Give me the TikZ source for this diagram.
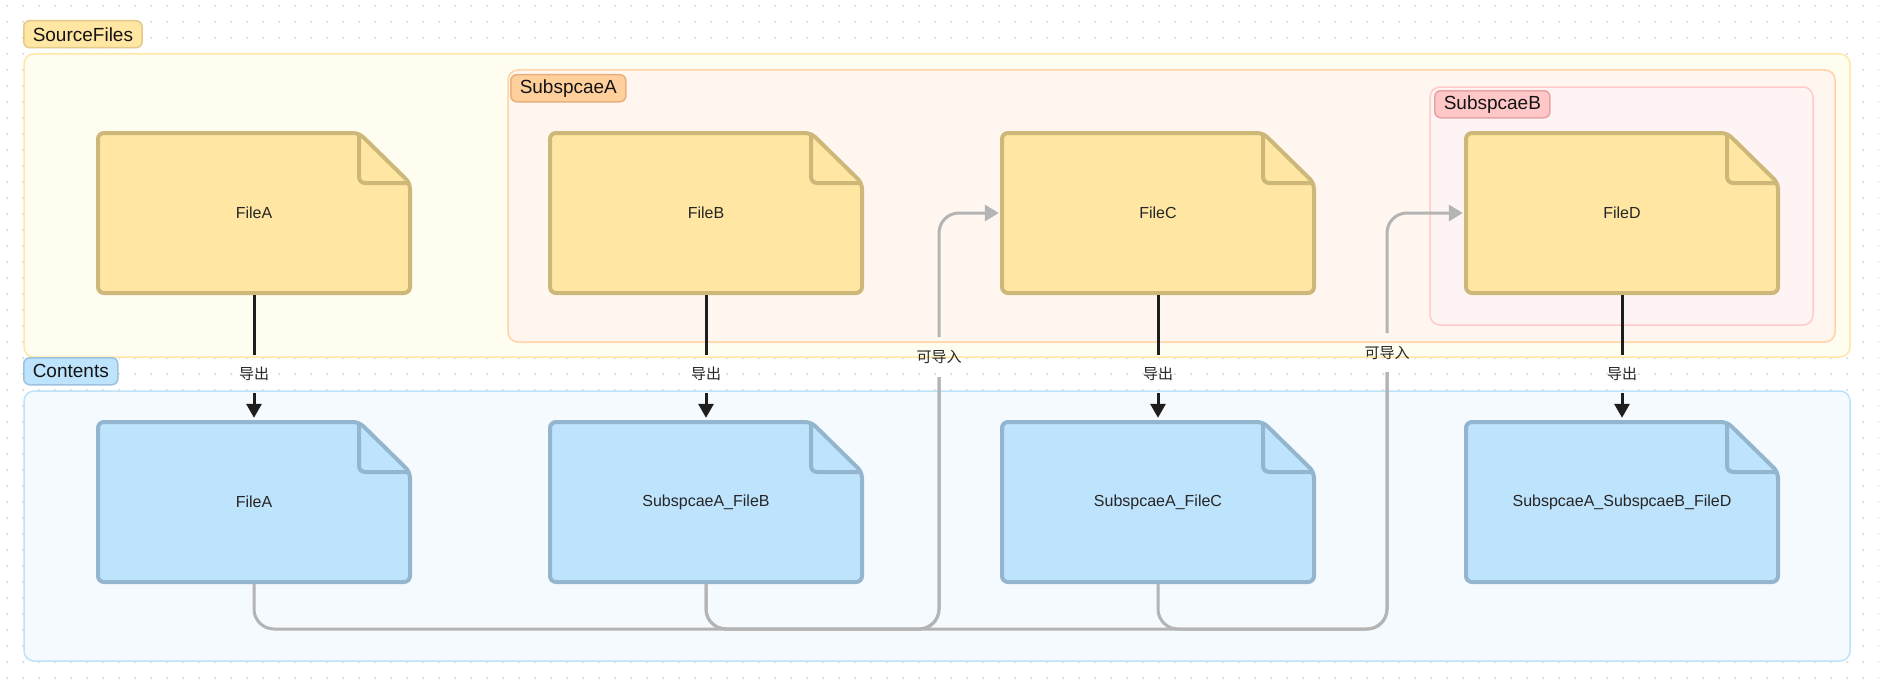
\documentclass[tikz,border=0pt]{standalone}
\usepackage{fontspec}
\setmainfont{Liberation Sans}
\newfontfamily\cjk{Noto Sans CJK SC}
\usetikzlibrary{arrows.meta}
\definecolor{dotc}{HTML}{E2E2E2}
\definecolor{txt}{HTML}{262626}
\definecolor{tagtext}{HTML}{141414}
\definecolor{srcfill}{HTML}{FFFCF0}
\definecolor{srcdraw}{HTML}{FFE8A6}
\definecolor{srctagf}{HTML}{FFE6A2}
\definecolor{srctagd}{HTML}{E4C987}
\definecolor{safill}{HTML}{FFF6F0}
\definecolor{sadraw}{HTML}{FFD3A3}
\definecolor{satagf}{HTML}{FFD09C}
\definecolor{satagd}{HTML}{E6B07C}
\definecolor{sbfill}{HTML}{FFF4F4}
\definecolor{sbdraw}{HTML}{FFCACA}
\definecolor{sbtagf}{HTML}{FFC7C7}
\definecolor{sbtagd}{HTML}{E8A3A3}
\definecolor{ctfill}{HTML}{F5FAFF}
\definecolor{ctdraw}{HTML}{BEE2F8}
\definecolor{cttagf}{HTML}{BEE3FC}
\definecolor{cttagd}{HTML}{9CC2DE}
\definecolor{yfill}{HTML}{FFE7A3}
\definecolor{ydraw}{HTML}{CDB87A}
\definecolor{bfill}{HTML}{BEE3FC}
\definecolor{bdraw}{HTML}{94B5CE}
\definecolor{grayc}{HTML}{B4B4B4}
\definecolor{blackc}{HTML}{1E1E1E}
\newcommand\docshape[4]{%
  \draw[line width=4pt, fill=#3, draw=#4, rounded corners=6pt]
    (#1-156,#2-80) -- (#1+105,#2-80) -- (#1+156,#2-30) -- (#1+156,#2+80) -- (#1-156,#2+80) -- cycle;
  \draw[line width=4pt, draw=#4, rounded corners=6pt]
    (#1+105,#2-80) -- (#1+105,#2-30) -- (#1+156,#2-30);
}
\tikzset{
  cont/.style={line width=1.5pt, rounded corners=10pt},
  tagn/.style={anchor=north west, rounded corners=6pt, line width=1.5pt, inner xsep=9pt, inner ysep=0pt,
    minimum height=27pt, font=\fontsize{19pt}{22pt}\selectfont, text=tagtext},
  ftext/.style={minimum width=312pt, minimum height=160pt, inner sep=0pt,
    font=\fontsize{16pt}{19pt}\selectfont, text=txt},
  lab/.style={font=\cjk\fontsize{15pt}{18pt}\selectfont, text=txt, inner sep=0pt},
  blk/.style={draw=blackc, line width=3pt},
  blkarrow/.style={blk, -{Triangle[length=14pt,width=15pt]}, shorten >=4pt},
  gry/.style={draw=grayc, line width=3pt, rounded corners=20pt},
  gryarrow/.style={gry, -{Triangle[length=14pt,width=16pt]}, shorten >=3pt},
}
\begin{document}
\begin{tikzpicture}[x=1pt,y=-1pt]
\useasboundingbox (0,0) rectangle (1879,685);
\fill[white] (0,0) rectangle (1879,685);
\fill[dotc] \foreach \x in {7,23,...,1879}{\foreach \y in {6,22,...,685}{(\x-1,\y-1) rectangle ++(2,2)}};
% containers
\draw[cont, fill=srcfill, draw=srcdraw] (24,54) rectangle (1850,357);
\draw[cont, fill=safill, draw=sadraw] (508,70) rectangle (1835,342);
\draw[cont, fill=sbfill, draw=sbdraw] (1430,87) rectangle (1813,325);
\draw[cont, fill=ctfill, draw=ctdraw] (24,391) rectangle (1850,661);
\node[tagn, fill=srctagf, draw=srctagd] (tsrc) at (23,20) {SourceFiles};
\node[tagn, fill=satagf, draw=satagd] (tsa) at (510,74) {SubspcaeA};
\node[tagn, fill=sbtagf, draw=sbtagd] (tsb) at (1434,90) {SubspcaeB};
\node[tagn, fill=cttagf, draw=cttagd] (tct) at (23,357) {Contents};
% file shapes
\docshape{254}{213}{yfill}{ydraw}
\docshape{706}{213}{yfill}{ydraw}
\docshape{1158}{213}{yfill}{ydraw}
\docshape{1622}{213}{yfill}{ydraw}
\docshape{254}{502}{bfill}{bdraw}
\docshape{706}{502}{bfill}{bdraw}
\docshape{1158}{502}{bfill}{bdraw}
\docshape{1622}{502}{bfill}{bdraw}
\node[ftext] (sa) at (254,213) {FileA};
\node[ftext] (sb) at (706,213) {FileB};
\node[ftext] (sc) at (1158,213) {FileC};
\node[ftext] (sd) at (1622,213) {FileD};
\node[ftext] (ca) at (254,502) {FileA};
\node[ftext] (cb) at (706,502) {SubspcaeA\_FileB};
\node[ftext] (cc) at (1158,502) {SubspcaeA\_FileC};
\node[ftext] (cd) at (1622,502) {SubspcaeA\_SubspcaeB\_FileD};
% export connectors
\foreach \n/\x in {a/254,b/706,c/1158,d/1622}{
  \coordinate (gt\n) at (\x,355);
  \coordinate (gb\n) at (\x,393);
  \draw[blk] ([yshift=-2pt]s\n.south) -- (gt\n);
  \draw[blkarrow] (gb\n) -- (c\n.north);
  \node[lab] (le\n) at (\x,374) {导出};
}
% import connectors
\coordinate (ilo1) at (939,377);
\coordinate (ihi1) at (939,337);
\coordinate (ilo2) at (1387,372);
\coordinate (ihi2) at (1387,333);
\draw[gry] ([yshift=-2pt]ca.south) -- (254,629) -- (939,629) -- (ilo1);
\draw[gry] ([yshift=-2pt]cb.south) -- (706,629) -- (939,629) -- (ilo1);
\draw[gry] ([yshift=-2pt]cb.south) -- (706,629) -- (1387,629) -- (ilo2);
\draw[gry] ([yshift=-2pt]cc.south) -- (1158,629) -- (1387,629) -- (ilo2);
\draw[gryarrow] (ihi1) -- (939,213) -- (sc.west);
\draw[gryarrow] (ihi2) -- (1387,213) -- (sd.west);
\node[lab] (li1) at (939,357) {可导入};
\node[lab] (li2) at (1387,353) {可导入};
\end{tikzpicture}
\end{document}
